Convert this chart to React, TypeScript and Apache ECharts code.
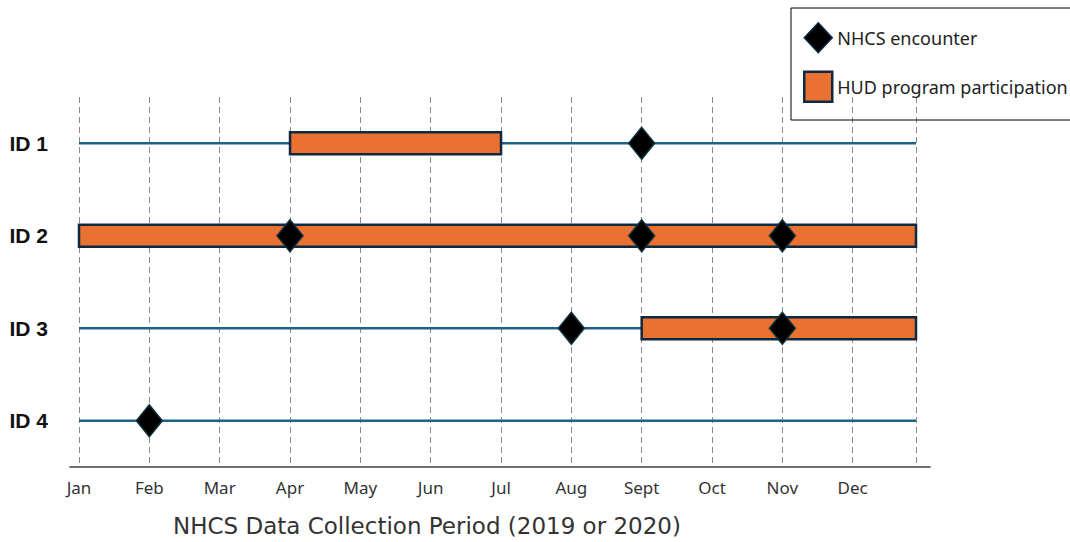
import React, { useEffect, useRef } from "react";
import * as echarts from "echarts";

const months = ["Jan", "Feb", "Mar", "Apr", "May", "Jun", "Jul", "Aug", "Sept", "Oct", "Nov", "Dec"];
const ids = ["ID 1", "ID 2", "ID 3", "ID 4"];
// end of the collection period on the month scale (Dec ends a bit short in the source)
const periodEnd = 11.9;
// [start month index, end month index, row index]
const timelines = [
  [0, periodEnd, 0],
  [0, periodEnd, 1],
  [0, periodEnd, 2],
  [0, periodEnd, 3],
];
const participation = [
  [3, 6, 0],
  [0, periodEnd, 1],
  [8, periodEnd, 2],
];
// [month index, row index]
const encounters = [
  [8, 0],
  [3, 1],
  [8, 1],
  [10, 1],
  [7, 2],
  [10, 2],
  [1, 3],
];
const xTitle = "NHCS Data Collection Period (2019 or 2020)";

const FONT = "'Noto Sans', 'Open Sans', sans-serif";
const ORANGE = "#E97132";
const NAVY = "#0E2841";
const TEAL = "#1B6486";

export default function App() {
  const ref = useRef<HTMLDivElement>(null);
  useEffect(() => {
    if (!ref.current) return;
    const chart = echarts.init(ref.current, null, { renderer: "svg" });
    chart.setOption({
      animation: false,
      textStyle: { fontFamily: FONT },
      title: {
        text: xTitle,
        left: 173,
        top: 514,
        padding: 0,
        textStyle: { fontFamily: "'DejaVu Sans', sans-serif", fontSize: 23, fontWeight: "normal", color: "#333" },
      },
      legend: {
        orient: "vertical",
        left: 791,
        top: 8,
        padding: [14, 12, 17, 12],
        itemWidth: 28,
        itemHeight: 30,
        itemGap: 17,
        itemTextGap: 14,
        borderColor: "#000",
        borderWidth: 1,
        textStyle: { fontFamily: FONT, fontSize: 18, color: "#222" },
        data: [
          {
            name: "NHCS encounter",
            icon: "diamond",
            itemStyle: { color: "#000", borderColor: NAVY, borderWidth: 1.5, opacity: 1 },
          },
          {
            name: "HUD program participation",
            icon: "rect",
            itemStyle: { color: ORANGE, borderColor: NAVY, borderWidth: 2.5, opacity: 1 },
          },
        ],
      },
      grid: [
        { left: 79, right: 154, top: 97, bottom: 75 },
        { left: 70, right: 140, top: 97, bottom: 75 },
      ],
      xAxis: [
        {
          type: "value",
          gridIndex: 0,
          min: 0,
          max: periodEnd,
          interval: 1,
          axisLine: { show: false },
          axisTick: { show: false },
          splitLine: {
            show: true,
            showMaxLine: true,
            lineStyle: { color: "#8a8a8a", type: [6, 4], width: 1 },
          },
          axisLabel: {
            margin: 12,
            fontFamily: FONT,
            fontSize: 17,
            color: "#333",
            showMaxLabel: false,
            formatter: (v: number) => (Number.isInteger(v) && v < months.length ? months[v] : ""),
          },
        },
        {
          type: "value",
          gridIndex: 1,
          min: 0,
          max: 1,
          axisLine: { show: true, lineStyle: { color: "#404040", width: 1.5 } },
          axisTick: { show: false },
          axisLabel: { show: false },
          splitLine: { show: false },
        },
      ],
      yAxis: [
        {
          type: "category",
          gridIndex: 0,
          data: ids,
          inverse: true,
          axisLine: { show: false },
          axisTick: { show: false },
          splitLine: { show: false },
          axisLabel: {
            margin: 31,
            fontFamily: "'Liberation Sans', Arial, sans-serif",
            fontSize: 21,
            fontWeight: "bold",
            color: "#111",
          },
        },
        {
          type: "value",
          gridIndex: 1,
          show: false,
        },
      ],
      series: [
        {
          type: "custom",
          name: "timeline",
          xAxisIndex: 0,
          yAxisIndex: 0,
          z: 1,
          data: timelines,
          renderItem: (params: any, api: any) => {
            const s = api.coord([api.value(0), api.value(2)]);
            const e = api.coord([api.value(1), api.value(2)]);
            return {
              type: "line",
              shape: { x1: s[0], y1: s[1], x2: e[0], y2: e[1] },
              style: { stroke: TEAL, lineWidth: 2.5 },
            };
          },
        },
        {
          type: "custom",
          name: "HUD program participation",
          xAxisIndex: 0,
          yAxisIndex: 0,
          z: 2,
          itemStyle: { color: ORANGE, borderColor: NAVY, borderWidth: 2.5 },
          data: participation,
          renderItem: (params: any, api: any) => {
            const s = api.coord([api.value(0), api.value(2)]);
            const e = api.coord([api.value(1), api.value(2)]);
            const h = 22;
            return {
              type: "rect",
              shape: { x: s[0], y: s[1] - h / 2, width: e[0] - s[0], height: h },
              style: { fill: ORANGE, stroke: NAVY, lineWidth: 2.5 },
            };
          },
        },
        {
          type: "scatter",
          name: "NHCS encounter",
          xAxisIndex: 0,
          yAxisIndex: 0,
          z: 3,
          symbol: "diamond",
          symbolSize: [26, 32],
          itemStyle: { color: "#000", borderColor: "#12343f", borderWidth: 1.5, opacity: 1 },
          data: encounters,
        },
      ],
    });
    return () => chart.dispose();
  }, []);
  return <div ref={ref} style={{ width: 1070, height: 542, position: "absolute", left: 0, top: 0 }} />;
}
